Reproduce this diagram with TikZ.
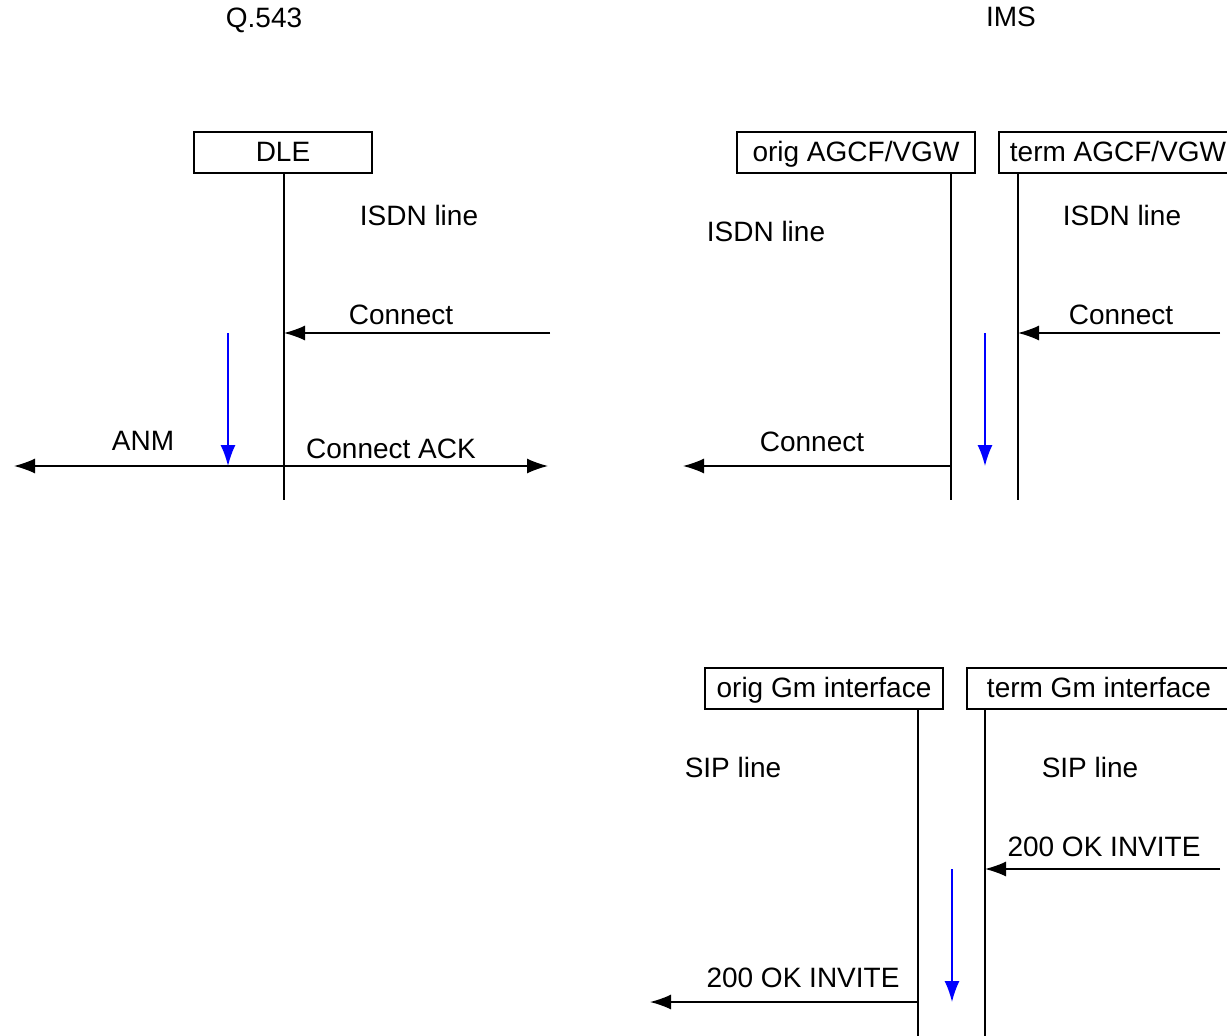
\documentclass[tikz,border=0pt]{standalone}
\usepackage{fontspec}
\setmainfont{Liberation Sans}
\usetikzlibrary{arrows.meta}
\tikzset{
  lbl/.style={font=\fontsize{14}{16}\selectfont, inner sep=0pt},
  entity/.style={draw, line width=0.7pt, lbl, minimum height=20.5pt, text height=11pt, text depth=2pt},
  life/.style={line width=0.7pt},
  msg/.style={line width=0.7pt, -{Latex[length=10.5pt,width=7.5pt]}},
  flow/.style={blue, line width=0.8pt, -{Latex[length=10.5pt,width=7.5pt]}}
}
\begin{document}
\begin{tikzpicture}[x=0.5pt,y=-0.5pt]
    \useasboundingbox (0,0) rectangle (1227,1035);

    \node[lbl] (q543) at (264,20) {Q.543};
    \node[lbl] (ims) at (1011,17) {IMS};

    \node[entity, minimum width=89pt] (dle) at (283,152.5) {DLE};
    \node[entity, minimum width=119pt] (origA) at (856,152.5) {orig AGCF/VGW};
    \node[entity, minimum width=119pt] (termA) at (1118,152.5) {term AGCF/VGW};
    \node[entity, minimum width=119pt] (origG) at (824,688.5) {orig Gm interface};
    \node[entity, minimum width=132pt] (termG) at (1099,688.5) {term Gm interface};

    \coordinate (dleEnd) at (284,500);
    \coordinate (oaEnd) at (951,500);
    \coordinate (taEnd) at (1018,500);
    \coordinate (ogEnd) at (918,1040);
    \coordinate (tgEnd) at (985,1040);

    \draw[life] (dleEnd |- dle.south) -- (dleEnd);
    \draw[life] (oaEnd |- origA.south) -- (oaEnd);
    \draw[life] (taEnd |- termA.south) -- (taEnd);
    \draw[life] (ogEnd |- origG.south) -- (ogEnd);
    \draw[life] (tgEnd |- termG.south) -- (tgEnd);

    \node[lbl] (isdn1) at (419,215) {ISDN line};
    \node[lbl] (isdn2) at (766,231) {ISDN line};
    \node[lbl] (isdn3) at (1122,215) {ISDN line};
    \node[lbl] (sip1) at (733,767) {SIP line};
    \node[lbl] (sip2) at (1090,767) {SIP line};

    % Q.543 side
    \coordinate (conIn) at (550,333);
    \draw[msg] (conIn) -- (conIn -| dleEnd);
    \node[lbl] (conLbl) at (401,315) {Connect};
    \coordinate (anmEnd) at (14,466);
    \coordinate (ackEnd) at (548,466);
    \draw[line width=0.7pt, {Latex[length=10.5pt,width=7.5pt]}-{Latex[length=10.5pt,width=7.5pt]}] (anmEnd) -- (ackEnd);
    \node[lbl] (anmLbl) at (143,441) {ANM};
    \node[lbl] (ackLbl) at (391,449) {Connect ACK};
    \coordinate (dleFlow) at (228,333);
    \draw[flow] (dleFlow) -- (dleFlow |- anmEnd);

    % IMS, AGCF/VGW
    \coordinate (conIn2) at (1220,333);
    \draw[msg] (conIn2) -- (conIn2 -| taEnd);
    \node[lbl] (conLbl2) at (1121,315) {Connect};
    \coordinate (conOut) at (683,466);
    \draw[msg] (conOut -| oaEnd) -- (conOut);
    \node[lbl] (conLbl3) at (812,442) {Connect};
    \coordinate (agcfFlow) at (985,333);
    \draw[flow] (agcfFlow) -- (agcfFlow |- conOut);

    % IMS, Gm interface
    \coordinate (okIn) at (1220,869);
    \draw[msg] (okIn) -- (okIn -| tgEnd);
    \node[lbl] (okLbl) at (1104,847) {200 OK INVITE};
    \coordinate (okOut) at (650,1002);
    \draw[msg] (okOut -| ogEnd) -- (okOut);
    \node[lbl] (okLbl2) at (803,978) {200 OK INVITE};
    \coordinate (gmFlow) at (952,869);
    \draw[flow] (gmFlow) -- (gmFlow |- okOut);
\end{tikzpicture}
\end{document}
